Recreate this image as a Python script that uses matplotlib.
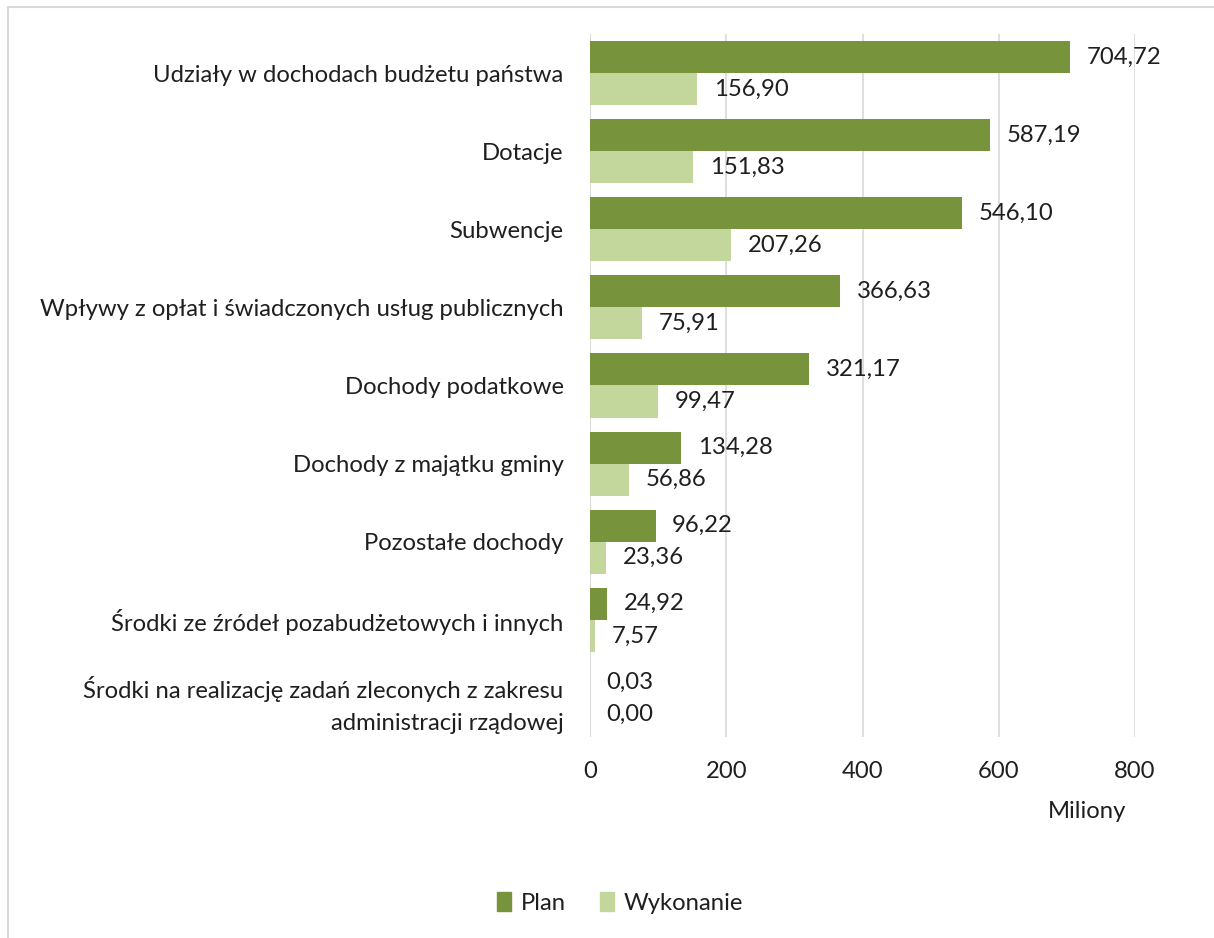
import matplotlib
matplotlib.use("Agg")
import matplotlib.pyplot as plt
from matplotlib.patches import Rectangle, Patch
import numpy as np

categories = [
    "Udziały w dochodach budżetu państwa",
    "Dotacje",
    "Subwencje",
    "Wpływy z opłat i świadczonych usług publicznych",
    "Dochody podatkowe",
    "Dochody z majątku gminy",
    "Pozostałe dochody",
    "Środki ze źródeł pozabudżetowych i innych",
    "Środki na realizację zadań zleconych z zakresu\nadministracji rządowej",
]
plan = [704.72, 587.19, 546.10, 366.63, 321.17, 134.28, 96.22, 24.92, 0.03]
wykonanie = [156.90, 151.83, 207.26, 75.91, 99.47, 56.86, 23.36, 7.57, 0.00]
xticks = [0, 200, 400, 600, 800]

plt.rcParams['font.family'] = ['Lato', 'DejaVu Sans']
FS = 17.2
TXT = '#1f1f1f'

fig = plt.figure(figsize=(12.14, 9.38), dpi=100)
ax = fig.add_axes([590/1214, 1-737/938, (1135-590)/1214, (737-34)/938])

n = len(categories)
y = np.arange(n)
h = 0.41
c_plan = '#77933C'
c_wyk = '#C3D69B'
ax.barh(y - h/2, plan, height=h, color=c_plan, label='Plan', zorder=3)
ax.barh(y + h/2, wykonanie, height=h, color=c_wyk, label='Wykonanie', zorder=3)

fmt = lambda v: f"{v:.2f}".replace('.', ',')
for i in range(n):
    ax.annotate(fmt(plan[i]), (plan[i], y[i] - h/2), xytext=(12, 0), textcoords='offset points',
                va='center', ha='left', fontsize=FS, color=TXT)
    ax.annotate(fmt(wykonanie[i]), (wykonanie[i], y[i] + h/2), xytext=(12, 0), textcoords='offset points',
                va='center', ha='left', fontsize=FS, color=TXT)

ax.set_xlim(0, 800)
ax.set_ylim(n - 0.5, -0.5)
ax.set_xticks(xticks)
ax.set_xticklabels([str(t) for t in xticks], fontsize=FS, color=TXT)
ax.set_yticks(y)
ax.set_yticklabels(categories, fontsize=FS, color=TXT, linespacing=1.65)
ax.tick_params(axis='both', length=0)
ax.tick_params(axis='x', pad=17)
ax.tick_params(axis='y', pad=19)
ax.grid(axis='x', color='#d9d9d9', linewidth=1.2, zorder=0)
for s in ax.spines.values():
    s.set_visible(False)
ax.axvline(0, color='#d9d9d9', linewidth=1.2, zorder=1)

fig.text(1126/1214, 1-811/938, "Miliony", ha='right', va='center', fontsize=FS, color=TXT)

handles = [Patch(color=c_plan, label='Plan'), Patch(color=c_wyk, label='Wykonanie')]
fig.legend(handles=handles, loc='center', bbox_to_anchor=(620/1214, 1-903/938), ncol=2,
           frameon=False, fontsize=FS, handlelength=0.6, handleheight=0.8, handletextpad=0.4,
           columnspacing=1.4, labelcolor=TXT)

fig.add_artist(Rectangle((8/1214, -0.1), 1.2, 1-7/938 + 0.1, transform=fig.transFigure,
                         fill=False, edgecolor='#d9d9d9', linewidth=1.5))

fig.savefig('out.png', dpi=100)
